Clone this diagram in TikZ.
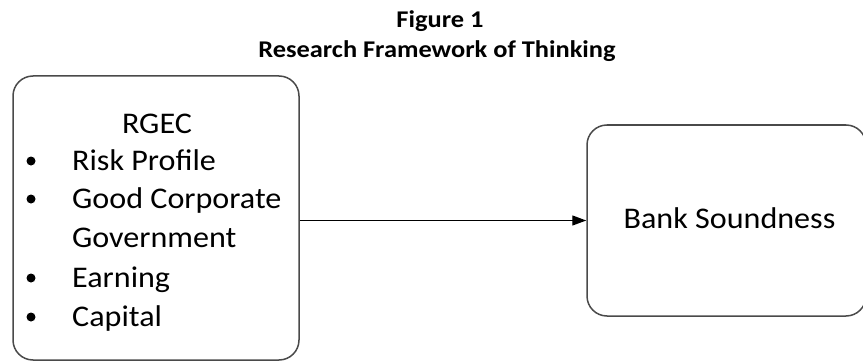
\documentclass[tikz,border=0pt]{standalone}
\usepackage{fontspec}
\setmainfont{Carlito}[FakeStretch=1.07]
\newfontfamily\ttlfont{Carlito}[FakeStretch=1.1]
\usetikzlibrary{arrows.meta,positioning,calc}
\definecolor{fwInk}{HTML}{000000}
\definecolor{fwFrame}{HTML}{4A4A4A}
\tikzset{
  frame/.style={draw=fwFrame, line width=1.5pt, rounded corners=20pt, inner sep=0pt},
  ttl/.style={font=\ttlfont\fontsize{24}{28}\selectfont\bfseries, anchor=base, inner sep=0pt},
  txt/.style={font=\fontsize{30}{36}\selectfont, anchor=base west, inner sep=0pt},
  dot/.style={circle, fill=fwInk, inner sep=0pt, minimum size=9pt},
  arr/.style={-{Triangle[length=14pt,width=10pt]}, line width=1.3pt, draw=fwInk},
}
\begin{document}
\begin{tikzpicture}[x=1pt,y=-1pt]
  \useasboundingbox (0,0) rectangle (863,361);
  % title
  \node[ttl] (fig) at (440,28) {Figure 1};
  \node[ttl] (title) at (437,58) {Research Framework of Thinking};
  % boxes
  \node[frame, minimum width=286pt, minimum height=284pt] (rgec) at (156,218) {};
  \node[frame, minimum width=279pt, minimum height=191pt] (bank) at (726.5,220.5) {};
  % left box contents
  \node[txt, anchor=base] (rgectxt) at (157,133) {RGEC};
  \foreach \i/\yy/\lbl in {1/170/Risk Profile, 2/208/Good Corporate, 4/287/Earning, 5/326/Capital} {
    \node[dot] (dot\i) at (31,\yy-9) {};
    \node[txt] (item\i) at (72,\yy) {\lbl};
  }
  \node[txt] (item3) at (72,247) {Government};
  % right box contents
  \node[txt, anchor=base] (banktxt) at (729.5,228) {Bank Soundness};
  % link
  \draw[arr] (rgec.east |- bank.west) -- (bank.west);
\end{tikzpicture}
\end{document}
